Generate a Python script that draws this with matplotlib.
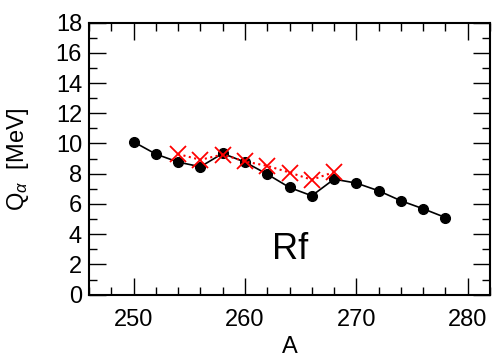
import numpy as np
import matplotlib
matplotlib.use('Agg')
import matplotlib.pyplot as plt
from matplotlib.ticker import MultipleLocator

plt.rcParams['font.family'] = ['Liberation Sans', 'DejaVu Sans']
plt.rcParams['mathtext.fontset'] = 'custom'
plt.rcParams['mathtext.rm'] = 'Liberation Sans'
plt.rcParams['mathtext.it'] = 'Liberation Sans:italic'

# data
mass_calc = [250, 252, 254, 256, 258, 260, 262, 264, 266, 268, 270, 272, 274, 276, 278]
q_calc = [10.11, 9.30, 8.77, 8.46, 9.34, 8.77, 7.97, 7.09, 6.54, 7.64, 7.38, 6.87, 6.21, 5.68, 5.10]

mass_exp = [254, 256, 258, 260, 262, 264, 266, 268]
q_exp = [9.30, 8.92, 9.27, 8.81, 8.52, 8.08, 7.60, 8.11]

fig = plt.figure(figsize=(4.97, 3.58), dpi=100)
ax = fig.add_axes([0.179, 0.177, 0.807, 0.760])

ax.plot(mass_calc, q_calc, color='black', linewidth=1.2, marker='o',
        markersize=7, zorder=3)
ax.plot(mass_exp, q_exp, color='red', linestyle=':', linewidth=1.5,
        marker='x', markersize=11, markeredgewidth=1.3, zorder=4)

ax.text(264.1, 3.0, 'Rf', fontsize=26, ha='center', va='center')

ax.set_xlim(246, 282)
ax.set_ylim(0, 18)
ax.xaxis.set_major_locator(MultipleLocator(10))
ax.xaxis.set_minor_locator(MultipleLocator(2))
ax.yaxis.set_major_locator(MultipleLocator(2))
ax.yaxis.set_minor_locator(MultipleLocator(1))
ax.tick_params(which='both', direction='in', top=True, right=True,
               labelsize=17, width=1.0)
ax.tick_params(which='major', length=12)
ax.tick_params(which='minor', length=6)
ax.tick_params(axis='x', pad=10)
ax.tick_params(axis='y', pad=5)
for s in ax.spines.values():
    s.set_linewidth(1.5)

ax.set_xlabel('A', fontsize=17, labelpad=0)
ax.set_ylabel(r'Q$_\alpha$  [MeV]', fontsize=17)
ax.yaxis.set_label_coords(-0.145, 0.5)
ax.xaxis.set_label_coords(0.5, -0.153)

fig.savefig('out.png', dpi=100)
